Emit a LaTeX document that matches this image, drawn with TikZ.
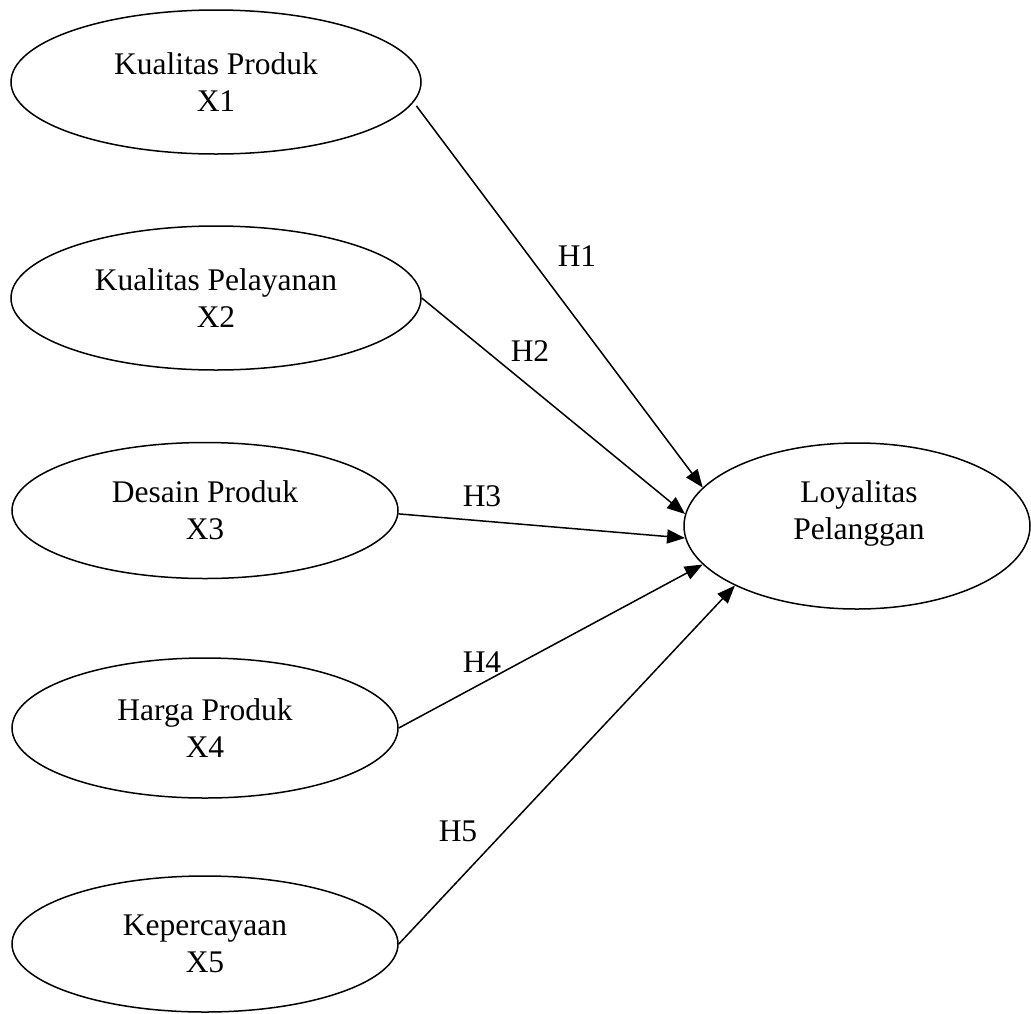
\documentclass[tikz,border=0pt]{standalone}
\usepackage{fontspec}
\setmainfont{Liberation Serif}
\usetikzlibrary{shapes.geometric,arrows.meta}
\begin{document}
\begin{tikzpicture}[x=1pt,y=-1pt,
  txt/.style={font=\fontsize{31.5}{37}\selectfont,align=center},
  var/.style={ellipse,draw,line width=1.5pt,inner sep=0pt,txt},
  link/.style={line width=1.5pt,-{Triangle[length=18pt,width=14pt]}}]
\useasboundingbox (0,0) rectangle (1031,1013);
\node[var,minimum width=410pt,minimum height=144pt] (x1) at (216,82) {Kualitas Produk\\X1};
\node[var,minimum width=410pt,minimum height=144pt] (x2) at (216,298) {Kualitas Pelayanan\\X2};
\node[var,minimum width=386pt,minimum height=136pt] (x3) at (205,510.5) {Desain Produk\\X3};
\node[var,minimum width=386pt,minimum height=140pt] (x4) at (205,728) {Harga Produk\\X4};
\node[var,minimum width=386pt,minimum height=136pt] (x5) at (205,944) {Kepercayaan\\X5};
\node[var,minimum width=346pt,minimum height=166pt] (y) at (857,526) {};
\node[txt] (ylab) at (859,513) {Loyalitas\\Pelanggan};
\draw[link] ([xshift=6pt]x1.-7) -- (y.166);
\draw[link] (x2.east) -- (y.176);
\draw[link] (x3.-1.5) -- (y.184);
\draw[link] (x4.east) -- (y.194);
\draw[link] (x5.east) -- (y.206);
\node[txt] (h1) at (577,256) {H1};
\node[txt] (h2) at (530,351) {H2};
\node[txt] (h3) at (482,496) {H3};
\node[txt] (h4) at (482,662) {H4};
\node[txt] (h5) at (458,831) {H5};
\end{tikzpicture}
\end{document}
